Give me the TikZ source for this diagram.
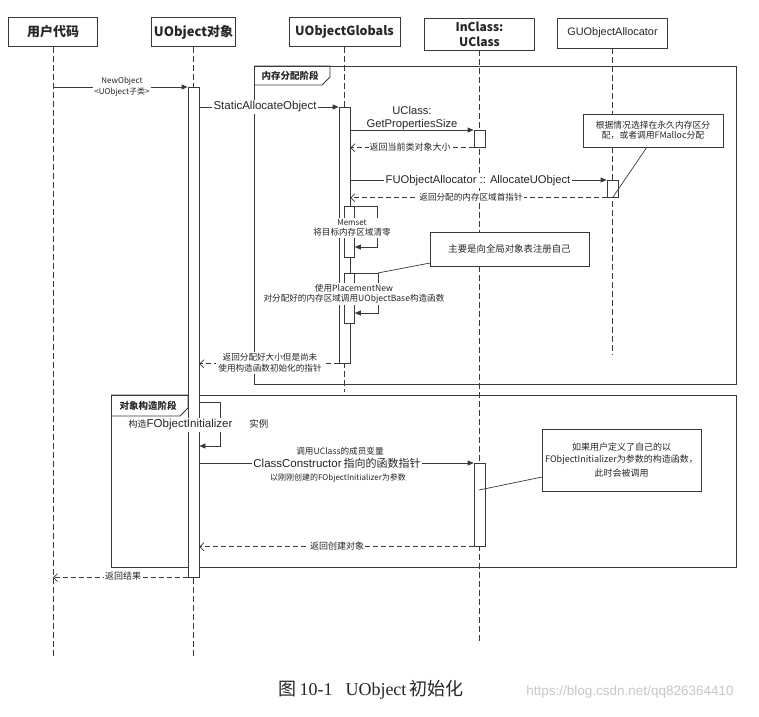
\documentclass[tikz,border=0pt]{standalone}
\usepackage{fontspec}
\setmainfont{Liberation Sans}
\newfontfamily\cjk{Noto Sans CJK SC}
\newfontfamily\capserif{Liberation Serif}
\usetikzlibrary{arrows.meta}
\definecolor{linec}{HTML}{3A3A3A}
\definecolor{txtc}{HTML}{262626}
\newcommand{\fs}[1]{\fontsize{#1}{#1}\selectfont}
\tikzset{
  head/.style={draw=linec, fill=white, line width=0.9pt, minimum height=29pt, inner sep=1pt, text=txtc, font=\cjk\bfseries\fs{13}},
  act/.style={draw=linec, fill=white, minimum width=11pt, anchor=north, inner sep=0pt, line width=0.7pt},
  lifeline/.style={draw=linec, dash pattern=on 6pt off 3pt, line width=0.6pt},
  msg/.style={draw=linec, line width=0.7pt, -{Triangle[length=6pt,width=5pt]}},
  ret/.style={draw=linec, line width=0.7pt, dash pattern=on 5pt off 3pt, -{Straight Barb[length=4pt,width=8pt]}},
  plain/.style={draw=linec, line width=0.7pt},
  lbl/.style={fill=white, inner sep=1pt, align=center, text=txtc, font=\cjk\fs{9}},
  bare/.style={inner sep=0pt, align=center, text=txtc, font=\cjk\fs{9}},
  frame/.style={draw=linec, line width=0.8pt},
  note/.style={draw=linec, fill=white, line width=0.7pt, align=center, inner sep=0pt, text=txtc, font=\cjk\fs{8.8}},
}
\begin{document}
\begin{tikzpicture}[x=1pt,y=-1pt]
\useasboundingbox (0,0) rectangle (759,716);
\fill[white] (0,0) rectangle (759,716);

% frames
\draw[frame] (254,66) rectangle (736,384);
\draw[frame] (254,66) -- (330,66) -- (330,77) -- (322,85) -- (254,85);
\node[bare, font=\cjk\bfseries\fs{9.5}] (tab1) at (290,76) {内存分配阶段};
\draw[frame] (111,395) rectangle (736,567);
\draw[frame] (111,395) -- (188,395) -- (188,408) -- (180,416) -- (111,416);
\node[bare, font=\cjk\bfseries\fs{9.5}] (tab2) at (148,406) {对象构造阶段};

% headers
\node[head, minimum width=89pt] (user) at (53,32) {用户代码};
\node[head, minimum width=84pt] (uobj) at (193.5,32) {UObject对象};
\node[head, minimum width=111pt, font=\cjk\bfseries\fs{12.5}] (glob) at (344.5,32) {UObjectGlobals};
\node[head, minimum width=110pt, minimum height=32pt, align=center, font=\cjk\bfseries\fontsize{12}{15}\selectfont] (incl) at (479.5,34) {InClass:\\UClass};
\node[head, minimum width=110pt, minimum height=30pt, font=\fs{10.9}, line width=0.8pt] (alloc) at (612.5,33) {GUObjectAllocator};

% lifeline ends
\coordinate (userE) at (53,658);
\coordinate (uobjE) at (193.5,658);
\coordinate (globE) at (344.5,392);
\coordinate (inclE) at (479.5,642);
\coordinate (allocE) at (612.5,355);
\draw[lifeline] (user.south) -- (userE);
\draw[lifeline] (uobj.south) -- (uobjE);
\draw[lifeline] (glob.south) -- (globE);
\draw[lifeline] (incl.south) -- (inclE);
\draw[lifeline] (alloc.south) -- (allocE);

% activation bars
\node[act, minimum height=490pt] (aU) at (193.5,87) {};
\node[act, minimum height=256pt] (aG) at (344.5,107) {};
\node[act, minimum height=17pt] (aI1) at (479.5,130) {};
\node[act, minimum height=17pt] (aA) at (612.5,180) {};
\node[act, minimum height=51pt, minimum width=10pt] (aM) at (349.5,206) {};
\node[act, minimum height=50pt, minimum width=10pt] (aP) at (349.5,273) {};
\node[act, minimum height=83pt] (aI2) at (479.5,463) {};

% messages
\draw[msg] (user |- aU.north) -- (aU.north west);
\draw[msg] (aU.east |- aG.north) -- (aG.north west);
\draw[msg] (aG.east |- aI1.north) -- (aI1.north west);
\draw[ret] (aI1.south west) -- (aG.east |- aI1.south);
\draw[msg] (aG.east |- aA.north) -- (aA.north west);
\draw[ret] (aA.south west) -- (aG.east |- aA.south);
\draw[msg] (aM.north east) -- ++(22,0) -- ++(0,41) -- ++(-22,0);
\draw[msg] (aP.north east) -- ++(23,0) coordinate (pnC) -- ++(0,40) -- ++(-23,0);
\draw[ret] (aG.south west) -- (aU.east |- aG.south);
\coordinate (fo) at (193.5,402);
\draw[msg] (aU.east |- fo) -- ++(21,0) -- ++(0,44) -- ++(-21,0);
\draw[msg] (aU.east |- aI2.north) -- (aI2.north west);
\draw[ret] (aI2.south west) -- (aU.east |- aI2.south);
\draw[ret] (aU.south west) -- (user |- aU.south);

% notes
\node[note, minimum width=140pt, minimum height=33pt] (noteA) at (653,130.5) {根据情况选择在永久内存区分\\[1pt]配，或者调用FMalloc分配};
\coordinate (nA) at (647,147);
\draw[plain] (nA) -- (aA.south);
\node[note, minimum width=159pt, minimum height=34pt, font=\cjk\fs{9.4}] (noteB) at (509.5,249) {主要是向全局对象表注册自己};
\coordinate (nB) at (430,263);
\draw[plain] (nB) -- (pnC);
\node[note, minimum width=159pt, minimum height=62pt, font=\cjk\fs{9}] (noteC) at (621.5,460) {如果用户定义了自己的以\\[3pt]FObjectInitializer为参数的构造函数，\\[3pt]此时会被调用};
\coordinate (nC) at (542,477);
\coordinate (nCe) at (479,490);
\draw[plain] (nC) -- (nCe);

% labels
\node[lbl, font=\cjk\fs{8}, inner sep=1.5pt] (l1) at (122,87) {NewObject\\[1pt]<UObject子类>};
\node[lbl, font=\fs{11.5}, inner sep=2pt] (l2) at (265,107) {StaticAllocateObject};
\node[bare, font=\fs{11.2}] (l3) at (412,118) {UClass:\\[2pt]GetPropertiesSize};
\node[lbl] (l4) at (410,147) {返回当前类对象大小};
\node[lbl, font=\fs{11.2}, inner sep=2pt] (l5) at (478,181) {FUObjectAllocator :: AllocateUObject};
\node[lbl, font=\cjk\fs{8.6}] (l6) at (471,197) {返回分配的内存区域首指针};
\node[lbl, font=\cjk\fs{8.6}, inner sep=1.5pt] (l8) at (352,228) {\fs{8}Memset\\[1pt]将目标内存区域清零};
\node[lbl, font=\cjk\fs{8.6}, inner sep=1.5pt] (l10) at (354,294) {使用PlacementNew\\[1pt]对分配好的内存区域调用UObjectBase构造函数};
\node[lbl, font=\cjk\fs{8.6}, inner sep=2pt] (l11) at (270,363) {返回分配好大小但是尚未\\[2pt]使用构造函数初始化的指针};
\node[lbl, anchor=west, inner sep=1.5pt] (l12) at (127,425) {{\cjk\fs{9}构造}{\normalfont\fs{11.5}FObjectInitializer}\hspace{17pt}{\cjk\fs{9.5}实例}};
\node[bare, font=\cjk\fs{8.6}] (l13a) at (340,451) {调用UClass的成员变量};
\node[lbl, inner sep=1.5pt] (l13) at (337,463) {{\normalfont\fs{11.5}ClassConstructor} {\cjk\fs{11}指向的函数指针}};
\node[bare, font=\cjk\fs{8}] (l13b) at (338,478) {以刚刚创建的FObjectInitializer为参数};
\node[lbl] (l14) at (337,546) {返回创建对象};
\node[lbl] (l15) at (123,576) {返回结果};

% caption and watermark
\node[bare, font=\capserif\fs{18}] (cap) at (371,690) {{\cjk 图}\,10-1\hspace{13pt}UObject\,{\cjk 初始化}};
\node[bare, font=\fs{13.5}, text=black!22] (wm) at (630,692) {https://blog.csdn.net/qq826364410};
\end{tikzpicture}
\end{document}
